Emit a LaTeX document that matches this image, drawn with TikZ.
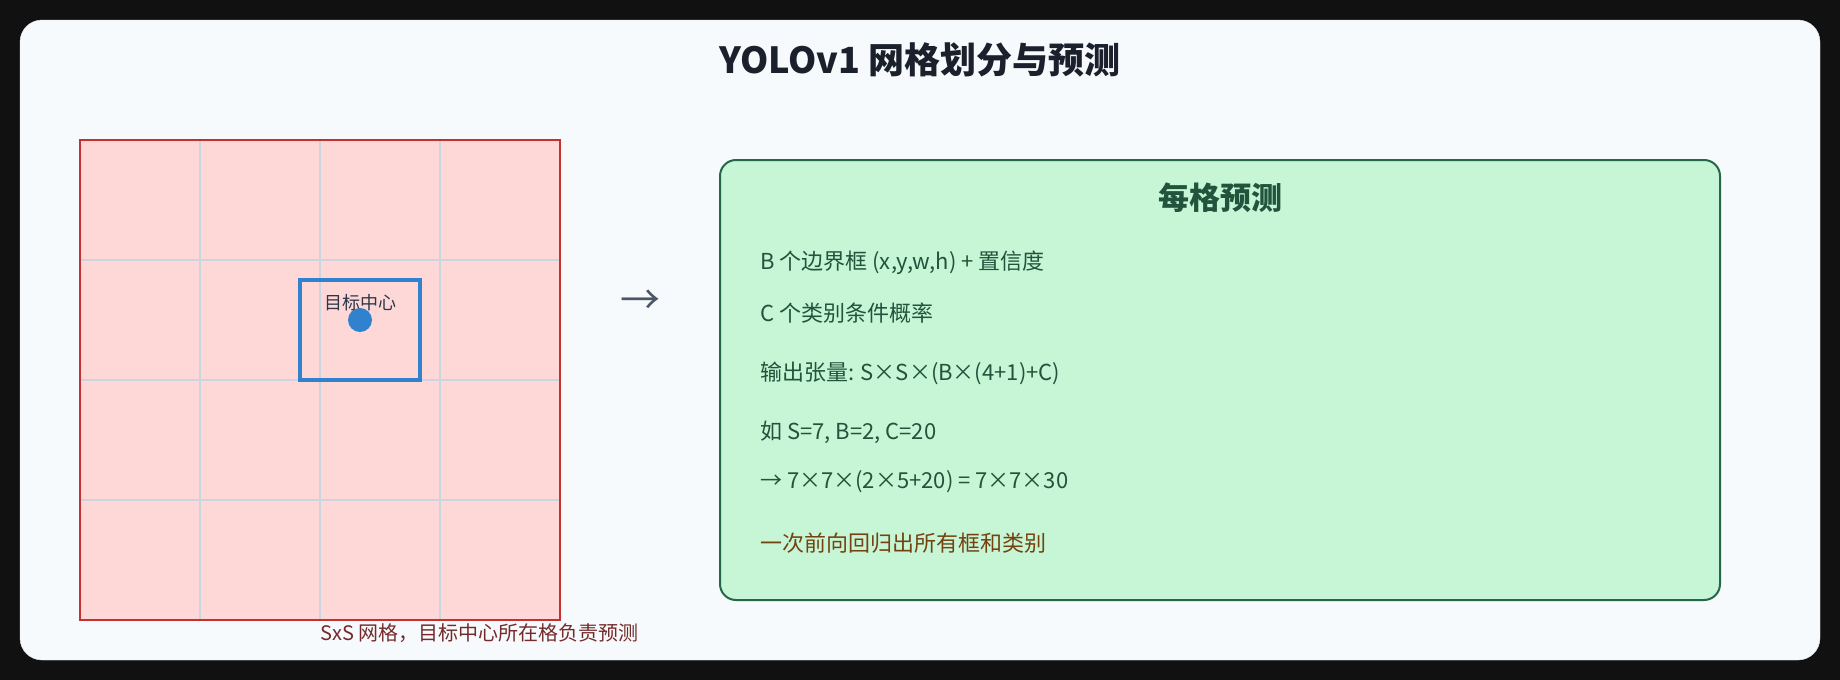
\documentclass[tikz,border=0pt]{standalone}
\usepackage{fontspec}
\setmainfont{Noto Sans CJK SC}
\usetikzlibrary{positioning}

\definecolor{pagedark}{HTML}{111111}
\definecolor{cardbg}{HTML}{F7FAFC}
\definecolor{cardline}{HTML}{E2E8F0}
\definecolor{titleink}{HTML}{1A202C}
\definecolor{gridfill}{HTML}{FED7D7}
\definecolor{gridborder}{HTML}{C53030}
\definecolor{gridline}{HTML}{CBD5E0}
\definecolor{objblue}{HTML}{3182CE}
\definecolor{labelink}{HTML}{2D3748}
\definecolor{arrowink}{HTML}{4A5568}
\definecolor{predfill}{HTML}{C6F6D5}
\definecolor{predline}{HTML}{276749}
\definecolor{predink}{HTML}{22543D}
\definecolor{noteink}{HTML}{744210}
\definecolor{capink}{HTML}{742A2A}

\begin{document}
\begin{tikzpicture}[x=1pt,y=-1pt,
    bodytext/.style={anchor=west,inner sep=0pt,text=predink,font=\fontsize{22}{26}\selectfont},
    cellline/.style={draw=gridline,line width=2pt}]
    \useasboundingbox (0,0) rectangle (1840,680);
    \fill[pagedark] (0,0) rectangle (1840,680);
    \draw[cardline,fill=cardbg,rounded corners=22pt] (20,20) rectangle (1820,660);

    \node[text=titleink,font=\fontsize{36}{42}\selectfont\bfseries] (title) at (920,60) {YOLOv1 网格划分与预测};

    % S x S grid
    \fill[gridfill] (80,140) rectangle (560,620);
    \foreach \k in {200,320,440} {
        \draw[cellline] (\k,140) -- (\k,620);
        \draw[cellline] (80,\k+60) -- (560,\k+60);
    }
    \draw[gridborder,line width=2pt] (80,140) rectangle (560,620);

    \draw[objblue,line width=4pt] (300,280) rectangle (420,380);
    \fill[objblue] (360,320) circle (12);
    \node[text=labelink,font=\fontsize{18}{21}\selectfont] (center) at (360,303) {目标中心};

    \node[anchor=west,inner sep=0pt,text=capink,font=\fontsize{20}{24}\selectfont] (caption) at (320,633) {SxS 网格，目标中心所在格负责预测};

    \node[text=arrowink,font=\fontsize{40}{46}\selectfont] (arrow) at (640,302) {→};

    % per-cell prediction
    \draw[predline,fill=predfill,line width=2pt,rounded corners=16pt] (720,160) rectangle (1720,600);
    \node[text=predink,font=\fontsize{31}{36}\selectfont\bfseries] (head) at (1220,198) {每格预测};

    \node[bodytext] (boxes) at (760,263) {B 个边界框 (x,y,w,h) + 置信度};
    \node[bodytext] (classes) at (760,313) {C 个类别条件概率};
    \node[bodytext] (tensor) at (760,373) {输出张量: S×S×(B×(4+1)+C)};
    \node[bodytext] (example) at (760,432) {如 S=7, B=2, C=20};
    \node[bodytext] (result) at (760,482) {→ 7×7×(2×5+20) = 7×7×30};
    \node[bodytext,text=noteink] (note) at (760,543) {一次前向回归出所有框和类别};
\end{tikzpicture}
\end{document}
